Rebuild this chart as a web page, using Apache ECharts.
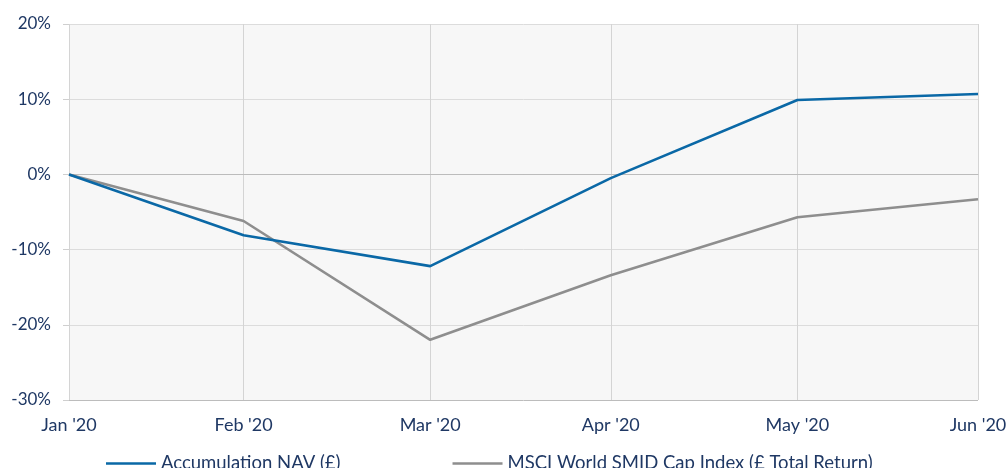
<!DOCTYPE html>
<html>
<head>
<meta charset="utf-8">
<script src="https://cdn.jsdelivr.net/npm/echarts@6/dist/echarts.min.js"></script>
<style>
  html, body { margin: 0; padding: 0; background: #fff; }
  #chart { width: 1006px; height: 468px; }
</style>
</head>
<body>
<div id="chart"></div>
<script>
  var dates = ['2020-01-31', '2020-02-29', '2020-03-31', '2020-04-30', '2020-05-31', '2020-06-30'];
  var months = ["Jan '20", "Feb '20", "Mar '20", "Apr '20", "May '20", "Jun '20"];
  var navValues = [0, -8.1, -12.2, -0.5, 9.9, 10.7];
  var indexValues = [0, -6.2, -22.0, -13.4, -5.7, -3.3];
  var seriesNames = ['Accumulation NAV (£)', 'MSCI World SMID Cap Index (£ Total Return)'];

  var textColor = '#1f3864';
  var font = 'Lato, "Open Sans", sans-serif';

  // days since first observation, so the axis keeps the uneven month lengths
  var base = Date.parse(dates[0] + 'T00:00:00Z');
  var days = dates.map(function (d) {
    return Math.round((Date.parse(d + 'T00:00:00Z') - base) / 86400000);
  });
  function pairs(vals) {
    return vals.map(function (v, i) { return [days[i], v]; });
  }

  var chart = echarts.init(document.getElementById('chart'));

  var option = {
    animation: false,
    textStyle: { fontFamily: font },
    legend: {
      left: 106,
      top: 454,
      padding: 0,
      icon: 'rect',
      itemWidth: 50,
      itemHeight: 2.6,
      itemGap: 112,
      textStyle: { color: textColor, fontSize: 18.5, fontFamily: font },
      data: seriesNames
    },
    grid: {
      left: 69,
      right: 28,
      top: 24,
      bottom: 68,
      outerBoundsMode: 'none',
      containLabel: false,
      show: true,
      backgroundColor: '#f7f7f7',
      borderWidth: 0
    },
    xAxis: {
      type: 'value',
      min: days[0],
      max: days[days.length - 1],
      axisLine: { lineStyle: { color: '#bcbcbc', width: 1 } },
      axisTick: { show: false, customValues: days },
      axisLabel: {
        color: textColor,
        fontSize: 18,
        margin: 16,
        fontFamily: font,
        customValues: days,
        formatter: function (value) {
          var i = days.indexOf(+value);
          return i >= 0 ? months[i] : '';
        }
      },
      splitLine: { show: true, lineStyle: { color: '#d4d4d4', width: 1 } }
    },
    yAxis: {
      type: 'value',
      min: -30,
      max: 20,
      interval: 10,
      axisLine: { show: false },
      axisTick: { show: true, length: 6, lineStyle: { color: '#cfcfcf' } },
      axisLabel: {
        color: textColor,
        fontSize: 17,
        margin: 18,
        fontFamily: font,
        formatter: '{value}%'
      },
      splitLine: {
        show: true,
        lineStyle: {
          color: ['#bcbcbc', '#dcdcdc', '#dcdcdc', '#a8a8a8', '#dcdcdc', '#dcdcdc'],
          width: 1
        }
      }
    },
    series: [
      {
        name: seriesNames[0],
        type: 'line',
        data: pairs(navValues),
        symbol: 'none',
        z: 3,
        lineStyle: { color: '#0a68a6', width: 2.6 },
        itemStyle: { color: '#0a68a6' }
      },
      {
        name: seriesNames[1],
        type: 'line',
        data: pairs(indexValues),
        symbol: 'none',
        z: 2,
        lineStyle: { color: '#8e8e8e', width: 2.6 },
        itemStyle: { color: '#8e8e8e' }
      }
    ]
  };

  chart.setOption(option);
</script>
</body>
</html>
